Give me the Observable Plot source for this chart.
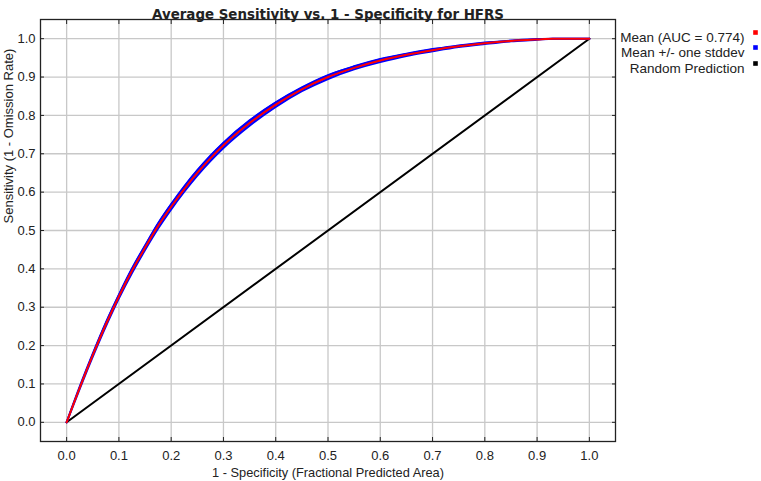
<!DOCTYPE html>
<html>
<head>
<meta charset="utf-8">
<script src="https://cdn.jsdelivr.net/npm/d3@7"></script>
<script src="https://cdn.jsdelivr.net/npm/@observablehq/plot@0.6"></script>
<style>
  html, body { margin: 0; padding: 0; background: #fff; }
  #chart svg { display: block; }
</style>
</head>
<body>
<div id="chart"></div>
<script>
// ---- data ----
const fpr = [0, 0.025, 0.05, 0.075, 0.1, 0.125, 0.15, 0.175, 0.2, 0.225, 0.25, 0.275, 0.3, 0.35, 0.4, 0.45, 0.5, 0.55, 0.6, 0.65, 0.7, 0.75, 0.8, 0.85, 0.9, 0.93, 1.0];
const meanTpr = [0, 0.09, 0.175, 0.255, 0.328, 0.395, 0.455, 0.512, 0.562, 0.608, 0.65, 0.688, 0.722, 0.78, 0.828, 0.868, 0.9, 0.924, 0.943, 0.958, 0.970, 0.980, 0.988, 0.994, 0.998, 1.0, 1.0];
const stdDev = [0, 0.003, 0.004, 0.005, 0.005, 0.006, 0.006, 0.007, 0.007, 0.007, 0.007, 0.007, 0.007, 0.007, 0.006, 0.005, 0.005, 0.004, 0.004, 0.003, 0.003, 0.002, 0.002, 0.001, 0.001, 0, 0];
const randomX = [0, 1];
const randomY = [0, 1];
const xTicks = [0.0, 0.1, 0.2, 0.3, 0.4, 0.5, 0.6, 0.7, 0.8, 0.9, 1.0];
const yTicks = [0.0, 0.1, 0.2, 0.3, 0.4, 0.5, 0.6, 0.7, 0.8, 0.9, 1.0];
const legendLabels = ["Mean (AUC = 0.774)", "Mean +/- one stddev", "Random Prediction"];
const legendColors = ["#ff0000", "#0000ff", "#000000"];
const titleText = "Average Sensitivity vs. 1 - Specificity for HFRS";
const xLabel = "1 - Specificity (Fractional Predicted Area)";
const yLabel = "Sensitivity (1 - Omission Rate)";

// ---- tables built from the arrays ----
const rows = fpr.map((x, i) => ({x, y: meanTpr[i], lo: meanTpr[i] - stdDev[i], hi: meanTpr[i] + stdDev[i]}));
const randomRows = randomX.map((x, i) => ({x, y: randomY[i]}));
const fmt = d => d.toFixed(1);

const legendMarks = [];
const legendDy = [13, 28, 44];
legendLabels.forEach((lab, i) => {
  legendMarks.push(Plot.text([lab], {frameAnchor: "top-right", text: d => d, dx: 129, dy: legendDy[i], textAnchor: "end", fill: "#222", fontSize: 13.5}));
  legendMarks.push(Plot.dot([lab], {frameAnchor: "top-right", x: null, y: null, dx: 140, dy: legendDy[i], symbol: "square", r: 2.6, fill: legendColors[i], stroke: null}));
});

const chart = Plot.plot({
  width: 761,
  height: 481,
  marginLeft: 40,
  marginRight: 146,
  marginTop: 19,
  marginBottom: 40,
  style: {fontFamily: "'Liberation Sans', Arial, sans-serif", fontSize: "13px", color: "#222", background: "#fff", overflow: "visible"},
  x: {domain: [-0.05, 1.05]},
  y: {domain: [-0.05, 1.05]},
  marks: [
    Plot.gridX(xTicks, {stroke: "#c8c8c8", strokeOpacity: 1, strokeWidth: 1.3}),
    Plot.gridY(yTicks, {stroke: "#c8c8c8", strokeOpacity: 1, strokeWidth: 1.3}),
    Plot.axisX(xTicks, {anchor: "bottom", tickSize: -4, tickPadding: 13, tickFormat: fmt, label: null, fontSize: 13, stroke: "#222"}),
    Plot.axisX(xTicks, {anchor: "top", tickSize: -4, tickFormat: () => "", label: null, stroke: "#222"}),
    Plot.axisY(yTicks, {anchor: "left", tickSize: -4, tickPadding: 9, tickFormat: fmt, label: null, fontSize: 13, stroke: "#222"}),
    Plot.axisY(yTicks, {anchor: "right", tickSize: -4, tickFormat: () => "", label: null, stroke: "#222"}),
    Plot.frame({stroke: "#222", strokeWidth: 1.3}),
    Plot.line(randomRows, {x: "x", y: "y", stroke: "#000", strokeWidth: 2}),
    Plot.areaY(rows, {x: "x", y1: "lo", y2: "hi", fill: "#0000ff", curve: "monotone-x"}),
    Plot.line(rows, {x: "x", y: "hi", stroke: "#0000ff", strokeWidth: 2, curve: "monotone-x"}),
    Plot.line(rows, {x: "x", y: "lo", stroke: "#0000ff", strokeWidth: 2, curve: "monotone-x"}),
    Plot.line(rows, {x: "x", y: "y", stroke: "#ff0000", strokeWidth: 2, curve: "monotone-x"}),
    Plot.text([titleText], {frameAnchor: "top", text: d => d, dy: -10, fontWeight: "bold", fontSize: 13.4, fontFamily: "'DejaVu Sans', sans-serif", fill: "#222"}),
    Plot.text([xLabel], {frameAnchor: "bottom", text: d => d, dy: 35, fontSize: 12.8, fill: "#222"}),
    Plot.text([yLabel], {frameAnchor: "left", text: d => d, dx: -32, dy: -7, rotate: -90, fontSize: 13, fill: "#222"}),
    ...legendMarks
  ]
});
document.getElementById("chart").appendChild(chart);
</script>
</body>
</html>
